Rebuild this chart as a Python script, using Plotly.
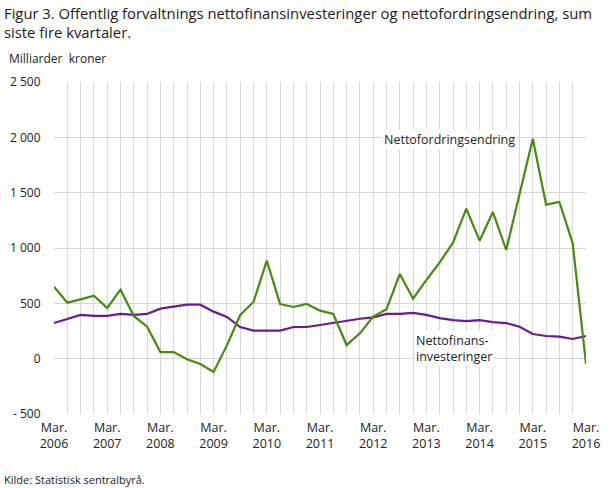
import plotly.graph_objects as go

years = list(range(2006, 2017))
quarters = [f"{y}K{q}" for y in range(2006, 2016) for q in (1, 2, 3, 4)] + ["2016K1"]

nettofordring = [650, 506, 536, 569, 458, 623, 386, 289, 60, 60,
                 -6, -48, -120, 120, 395, 512, 886, 494, 467, 494,
                 434, 404, 123, 229, 380, 446, 765, 542, 711, 870,
                 1048, 1355, 1066, 1325, 982, 1479, 1988, 1392, 1416, 1042,
                 -48]
nettofinans = [322, 358, 395, 386, 386, 404, 395, 404, 452, 470,
               488, 488, 425, 377, 286, 253, 253, 253, 286, 286,
               304, 325, 340, 361, 373, 404, 404, 413, 395, 367,
               349, 340, 349, 331, 322, 289, 223, 205, 199, 178,
               205]

ytickvals = [-500, 0, 500, 1000, 1500, 2000, 2500]
yticktext = ["- 500", "0", "500", "1 000", "1 500", "2 000", "2 500"]
xticktext = [f"Mar.<br>{y}" for y in years]

xidx = list(range(len(quarters)))

GREEN = "#478a12"
PURPLE = "#6d1a8a"
FONT = "Open Sans"
TXT = "#222222"

fig = go.Figure()
fig.add_trace(go.Scatter(x=xidx, y=nettofinans, mode="lines",
                         line=dict(color=PURPLE, width=2.2), name="Nettofinansinvesteringer",
                         hovertext=quarters))
fig.add_trace(go.Scatter(x=xidx, y=nettofordring, mode="lines",
                         line=dict(color=GREEN, width=2.2), name="Nettofordringsendring",
                         hovertext=quarters))

fig.update_layout(
    width=610, height=488,
    margin=dict(l=54, r=24, t=82, b=74, autoexpand=False),
    paper_bgcolor="white", plot_bgcolor="white",
    showlegend=False,
    font=dict(family=FONT, size=12, color=TXT),
    xaxis=dict(
        range=[0, 40], tickvals=[i * 4 for i in range(len(years))], ticktext=xticktext,
        showgrid=True, gridcolor="#d6d6d6", gridwidth=1,
        minor=dict(dtick=1, tick0=0, showgrid=True, gridcolor="#d6d6d6", gridwidth=1),
        zeroline=False, showline=False, ticks="outside", ticklen=2, tickcolor="white",
        tickfont=dict(size=12.5, color=TXT), automargin=False,
    ),
    yaxis=dict(
        range=[-500, 2500], tickvals=ytickvals, ticktext=yticktext,
        showgrid=True, gridcolor="#d6d6d6", gridwidth=1,
        zeroline=False, showline=False, ticks="outside", ticklen=10, tickcolor="white",
        tickfont=dict(size=12, color=TXT), automargin=False,
    ),
    annotations=[
        dict(text="Figur 3. Offentlig forvaltnings nettofinansinvesteringer og nettofordringsendring, sum<br>siste fire kvartaler.",
             xref="paper", yref="paper", x=-0.097, y=1.244, xanchor="left", yanchor="top",
             align="left", showarrow=False, font=dict(size=14.8, color="#1a1a1a")),
        dict(text="Milliarder  kroner", xref="paper", yref="paper", x=-0.088, y=1.072,
             xanchor="left", yanchor="middle", showarrow=False,
             font=dict(size=12, color=TXT)),
        dict(text="Kilde: Statistisk sentralbyrå.", xref="paper", yref="paper", x=-0.098, y=-0.196,
             xanchor="left", yanchor="middle", showarrow=False,
             font=dict(size=11, color=TXT)),
        dict(text="Nettofordringsendring", x=24.66, y=1976, xref="x", yref="y",
             xanchor="left", yanchor="middle", showarrow=False, bgcolor="white",
             font=dict(size=12.5, color=TXT)),
        dict(text="Nettofinans-<br>investeringer", x=27.07, y=88, xref="x", yref="y",
             xanchor="left", yanchor="middle", align="left", showarrow=False, bgcolor="white",
             font=dict(size=12.5, color=TXT)),
    ],
)

fig.write_html("out.html", config={"displayModeBar": False},
               post_script="document.body.style.margin='0';")
